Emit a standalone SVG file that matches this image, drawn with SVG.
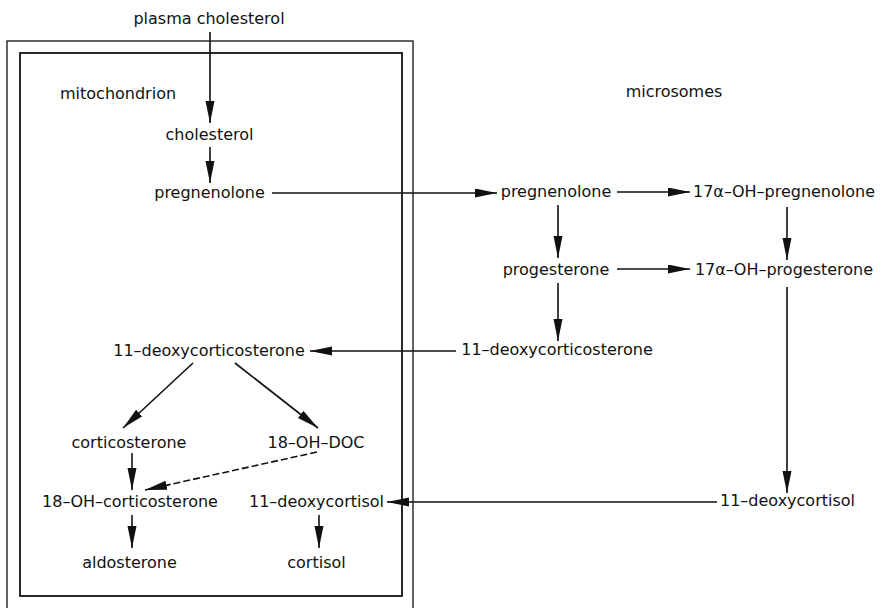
<svg xmlns="http://www.w3.org/2000/svg" width="881" height="608" viewBox="0 0 881 608">
<style>
text{font-family:"DejaVu Sans","Liberation Sans",sans-serif;font-size:16px;fill:#111;text-anchor:middle}
.lbl{text-anchor:start}
.c{stroke:#111;stroke-width:1.6;fill:none;marker-end:url(#ah)}
.d{stroke-dasharray:7 3}
.box{fill:none;stroke:#111}
</style>
<defs>
<marker id="ah" markerUnits="userSpaceOnUse" markerWidth="24" markerHeight="10" refX="22" refY="4.5" orient="auto">
<path d="M0,0 L22,4.5 L0,9 Z" fill="#111"/>
</marker>
</defs>
<g id="compartments">
<rect class="box" x="7" y="41" width="406" height="580" stroke-width="1.3"/>
<rect class="box" x="20" y="53" width="382" height="543" stroke-width="1.8"/>
<text class="lbl" x="60" y="99">mitochondrion</text>
<text x="674" y="97">microsomes</text>
</g>
<g id="connectors">
<line class="c" x1="210" y1="32" x2="210" y2="123"/>
<line class="c" x1="210" y1="147" x2="210" y2="183"/>
<line class="c" x1="272" y1="193" x2="497" y2="193"/>
<line class="c" x1="617" y1="192" x2="690" y2="192"/>
<line class="c" x1="558" y1="205" x2="558" y2="258"/>
<line class="c" x1="787" y1="207" x2="787" y2="260"/>
<line class="c" x1="617" y1="269" x2="690" y2="269"/>
<line class="c" x1="558" y1="283" x2="558" y2="341"/>
<line class="c" x1="456" y1="351" x2="310" y2="351"/>
<line class="c" x1="787" y1="287" x2="787" y2="493"/>
<line class="c" x1="717" y1="502" x2="387" y2="502"/>
<line class="c" x1="193" y1="363" x2="123" y2="428"/>
<line class="c" x1="235" y1="363" x2="318" y2="428"/>
<line class="c" x1="132" y1="453" x2="132" y2="490"/>
<line class="c d" x1="317" y1="452" x2="145" y2="490"/>
<line class="c" x1="132" y1="515" x2="132" y2="548"/>
<line class="c" x1="319" y1="515" x2="319" y2="548"/>
</g>
<g id="n-plasma-cholesterol"><text x="209" y="24">plasma cholesterol</text></g>
<g id="n-cholesterol"><text x="209.5" y="140">cholesterol</text></g>
<g id="n-pregnenolone-mito"><text x="209.5" y="198">pregnenolone</text></g>
<g id="n-pregnenolone"><text x="556" y="197">pregnenolone</text></g>
<g id="n-17oh-pregnenolone"><text x="784" y="197">17α–OH–pregnenolone</text></g>
<g id="n-progesterone"><text x="556" y="275">progesterone</text></g>
<g id="n-17oh-progesterone"><text x="784" y="275">17α–OH–progesterone</text></g>
<g id="n-doc-micro"><text x="557" y="355">11–deoxycorticosterone</text></g>
<g id="n-doc-mito"><text x="209" y="356">11–deoxycorticosterone</text></g>
<g id="n-corticosterone"><text x="129" y="448">corticosterone</text></g>
<g id="n-18oh-doc"><text x="316" y="448">18–OH–DOC</text></g>
<g id="n-18oh-corticosterone"><text x="130" y="507">18–OH–corticosterone</text></g>
<g id="n-deoxycortisol-mito"><text x="316.5" y="507">11–deoxycortisol</text></g>
<g id="n-aldosterone"><text x="129.5" y="568">aldosterone</text></g>
<g id="n-cortisol"><text x="316.5" y="568">cortisol</text></g>
<g id="n-deoxycortisol-micro"><text x="787.5" y="506">11–deoxycortisol</text></g>
</svg>
